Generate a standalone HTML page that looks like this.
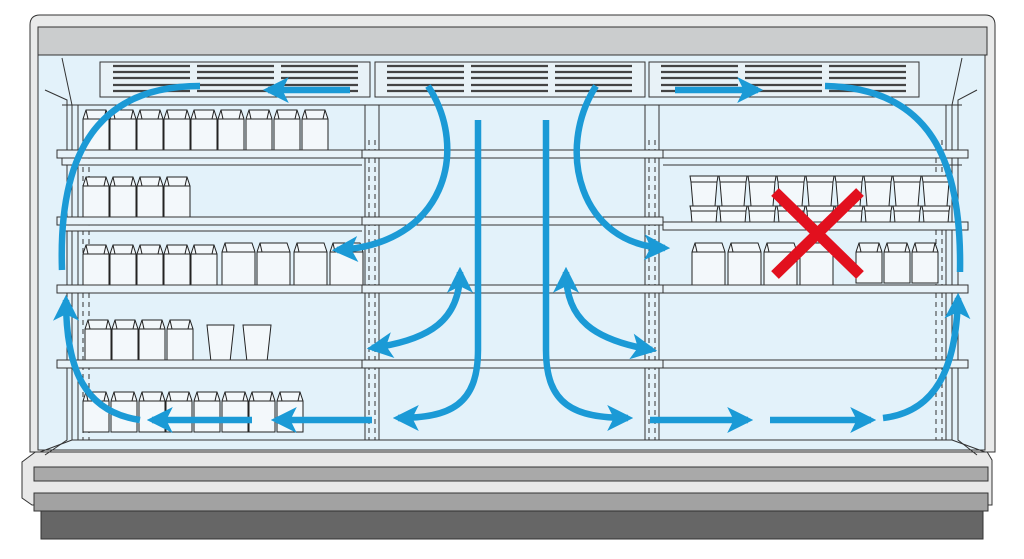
<!DOCTYPE html>
<html><head><meta charset="utf-8"><style>html,body{margin:0;padding:0;background:#fff;width:1024px;height:559px;overflow:hidden}</style></head>
<body>
<svg width="1024" height="559" viewBox="0 0 1024 559" xmlns="http://www.w3.org/2000/svg">
<defs>
<g id="ct"><path d="M0,9 L3,0 L23,0 L26,9 V40 H0 Z" fill="#f3f8fb" stroke="#222" stroke-width="1"/><path d="M0,9 H26 M3,0 L5,9 M23,0 L21,9" fill="none" stroke="#222" stroke-width="1"/></g>
<g id="ctb"><path d="M0,9 L3,0 L30,0 L33,9 V42 H0 Z" fill="#f3f8fb" stroke="#222" stroke-width="1"/><path d="M0,9 H33 M3,0 L5,9" fill="none" stroke="#222" stroke-width="1"/></g>
<g id="yg"><path d="M0,0 H28 L27,6 L25,30 H3 L1,6 Z M1,6 H27" fill="#f3f8fb" stroke="#222" stroke-width="1"/><path d="M0,30 H28 L27,35 L26,47 H2 L1,35 Z M1,35 H27" fill="#f3f8fb" stroke="#222" stroke-width="1"/></g>
<marker id="ah" viewBox="0 0 10 10" refX="8" refY="5" markerWidth="26" markerHeight="28" markerUnits="userSpaceOnUse" orient="auto"><path d="M0,0 L10,5 L0,10 L2.5,5 Z" fill="#1b9ad6"/></marker>
<marker id="as" viewBox="0 0 10 10" refX="8" refY="5" markerWidth="26" markerHeight="28" markerUnits="userSpaceOnUse" orient="auto-start-reverse"><path d="M0,0 L10,5 L0,10 L2.5,5 Z" fill="#1b9ad6"/></marker>
</defs>
<!-- base -->
<rect x="41" y="505" width="942" height="34" fill="#666" stroke="#333"/>
<path d="M38,450 H986 L992,460 V505 H32 L22,498 V462 Z" fill="#e8e8e8" stroke="#333"/>
<rect x="34" y="467" width="954" height="14" fill="#a9a9a9" stroke="#333"/>
<rect x="34" y="493" width="954" height="18" fill="#a2a2a2" stroke="#333"/>
<!-- outer cabinet -->
<path d="M30,25 Q30,15 40,15 H985 Q995,15 995,25 V452 H30 Z" fill="#e9eaea" stroke="#333"/>
<rect x="38" y="27" width="949" height="28" fill="#cbcdce" stroke="#333"/>
<rect x="38" y="55" width="947" height="395" fill="#e3f2fa" stroke="#333"/>
<!-- side walls -->
<path d="M45,90 L67,100 V440 L45,455" fill="none" stroke="#333"/>
<path d="M977,90 L958,100 V440 L977,455" fill="none" stroke="#333"/>
<path d="M62,58 L72,105 V440 L40,452 M962,58 L952,105 V440 L985,452" fill="none" stroke="#333"/>
<line x1="78" y1="105" x2="78" y2="440" stroke="#333"/>
<line x1="946" y1="105" x2="946" y2="440" stroke="#333"/>
<line x1="62" y1="105" x2="962" y2="105" stroke="#333"/>
<line x1="72" y1="440" x2="952" y2="440" stroke="#333"/>
<!-- vents -->
<g fill="#e8f2f7" stroke="#333">
<rect x="100" y="62" width="270" height="35"/><rect x="375" y="62" width="270" height="35"/><rect x="649" y="62" width="270" height="35"/>
</g>
<g stroke="#444" stroke-width="2.2">
<path d="M113,66H190M113,72H190M113,78H190M113,85H190M113,91H190 M197,66H274M197,72H274M197,78H274M197,85H274M197,91H274 M281,66H358M281,72H358M281,78H358M281,85H358M281,91H358"/>
<path d="M387,66H464M387,72H464M387,78H464M387,85H464M387,91H464 M471,66H548M471,72H548M471,78H548M471,85H548M471,91H548 M555,66H632M555,72H632M555,78H632M555,85H632M555,91H632"/>
<path d="M661,66H738M661,72H738M661,78H738M661,85H738M661,91H738 M745,66H822M745,72H822M745,78H822M745,85H822M745,91H822 M829,66H906M829,72H906M829,78H906M829,85H906M829,91H906"/>
</g>
<!-- columns -->
<g fill="none" stroke="#333">
<rect x="365" y="105" width="14" height="335"/><rect x="645" y="105" width="14" height="335"/>
<path d="M369,140V440M375,140V440M649,140V440M655,140V440M83,140V440M89,140V440M936,140V440M942,140V440" stroke-dasharray="5,4"/>
</g>
<!-- products -->
<g>
<use href="#ct" x="83" y="110"/><use href="#ct" x="110" y="110"/><use href="#ct" x="137" y="110"/><use href="#ct" x="164" y="110"/><use href="#ct" x="191" y="110"/><use href="#ct" x="218" y="110"/><use href="#ct" x="246" y="110"/><use href="#ct" x="274" y="110"/><use href="#ct" x="302" y="110"/>
<use href="#ct" x="83" y="177"/><use href="#ct" x="110" y="177"/><use href="#ct" x="137" y="177"/><use href="#ct" x="164" y="177"/>
<use href="#ct" x="83" y="245"/><use href="#ct" x="110" y="245"/><use href="#ct" x="137" y="245"/><use href="#ct" x="164" y="245"/><use href="#ct" x="191" y="245"/>
<use href="#ctb" x="222" y="243"/><use href="#ctb" x="257" y="243"/><use href="#ctb" x="294" y="243"/><use href="#ctb" x="330" y="243"/>
<use href="#ct" x="85" y="320"/><use href="#ct" x="112" y="320"/><use href="#ct" x="139" y="320"/><use href="#ct" x="167" y="320"/>
<path d="M207,325 H234 L230,362 H211 Z M243,325 H271 L267,362 H247 Z" fill="#f3f8fb" stroke="#222"/>
<use href="#ct" x="83" y="392"/><use href="#ct" x="111" y="392"/><use href="#ct" x="139" y="392"/><use href="#ct" x="166" y="392"/><use href="#ct" x="194" y="392"/><use href="#ct" x="222" y="392"/><use href="#ct" x="249" y="392"/><use href="#ct" x="277" y="392"/>
<use href="#yg" x="690" y="176"/><use href="#yg" x="719" y="176"/><use href="#yg" x="748" y="176"/><use href="#yg" x="777" y="176"/><use href="#yg" x="806" y="176"/><use href="#yg" x="835" y="176"/><use href="#yg" x="864" y="176"/><use href="#yg" x="893" y="176"/><use href="#yg" x="922" y="176"/>
<use href="#ctb" x="692" y="243"/><use href="#ctb" x="728" y="243"/><use href="#ctb" x="764" y="243"/><use href="#ctb" x="800" y="243"/><use href="#ct" x="856" y="243"/><use href="#ct" x="884" y="243"/><use href="#ct" x="912" y="243"/>
</g>
<!-- shelves -->
<g fill="#e8f3f9" stroke="#333">
<path d="M57,150 H362 V158 H57 Z M62,158 V165 H362"/><path d="M362,150 H663 V158 H362 Z"/><path d="M663,150 H968 V158 H663 Z M663,165 H962"/>
<path d="M57,217 H362 V225 H57 Z M62,225 V231 H362"/><path d="M362,217 H663 V225 H362 Z"/><path d="M663,222 H968 V230 H663 Z"/>
<path d="M57,285 H362 V293 H57 Z"/><path d="M362,285 H663 V293 H362 Z"/><path d="M663,285 H968 V293 H663 Z"/>
<path d="M57,360 H362 V368 H57 Z"/><path d="M362,360 H663 V368 H362 Z"/><path d="M663,360 H968 V368 H663 Z"/>
</g>
<!-- red X -->
<path d="M775,192 L860,275 M860,192 L775,275" stroke="#e2101e" stroke-width="11"/>
<!-- arrows -->
<g fill="none" stroke="#1b9ad6" stroke-width="6.5" marker-end="url(#ah)">
<path d="M350,90 L268,90"/>
<path d="M200,86 C100,86 58,150 62,270" marker-end="none"/>
<path d="M140,420 C85,412 66,370 66,300"/>
<path d="M372,420 L276,420"/>
<path d="M252,420 L152,420"/>
<path d="M428,86 C470,150 445,245 337,250"/>
<path d="M478,120 L478,350 C478,405 450,418 398,418"/>
<path d="M372,348 C430,340 460,320 460,272" marker-start="url(#as)" marker-end="url(#as)"/>
<path d="M546,120 L546,350 C546,405 574,418 628,418"/>
<path d="M596,86 C555,150 580,245 665,248"/>
<path d="M652,350 C594,340 566,320 566,272" marker-start="url(#as)" marker-end="url(#as)"/>
<path d="M650,420 L748,420"/>
<path d="M770,420 L871,420"/>
<path d="M883,418 C935,412 956,370 958,298"/>
<path d="M675,90 L758,90"/>
<path d="M825,86 C930,88 962,160 960,272" marker-end="none"/>
</g>
</svg>
</body></html>
